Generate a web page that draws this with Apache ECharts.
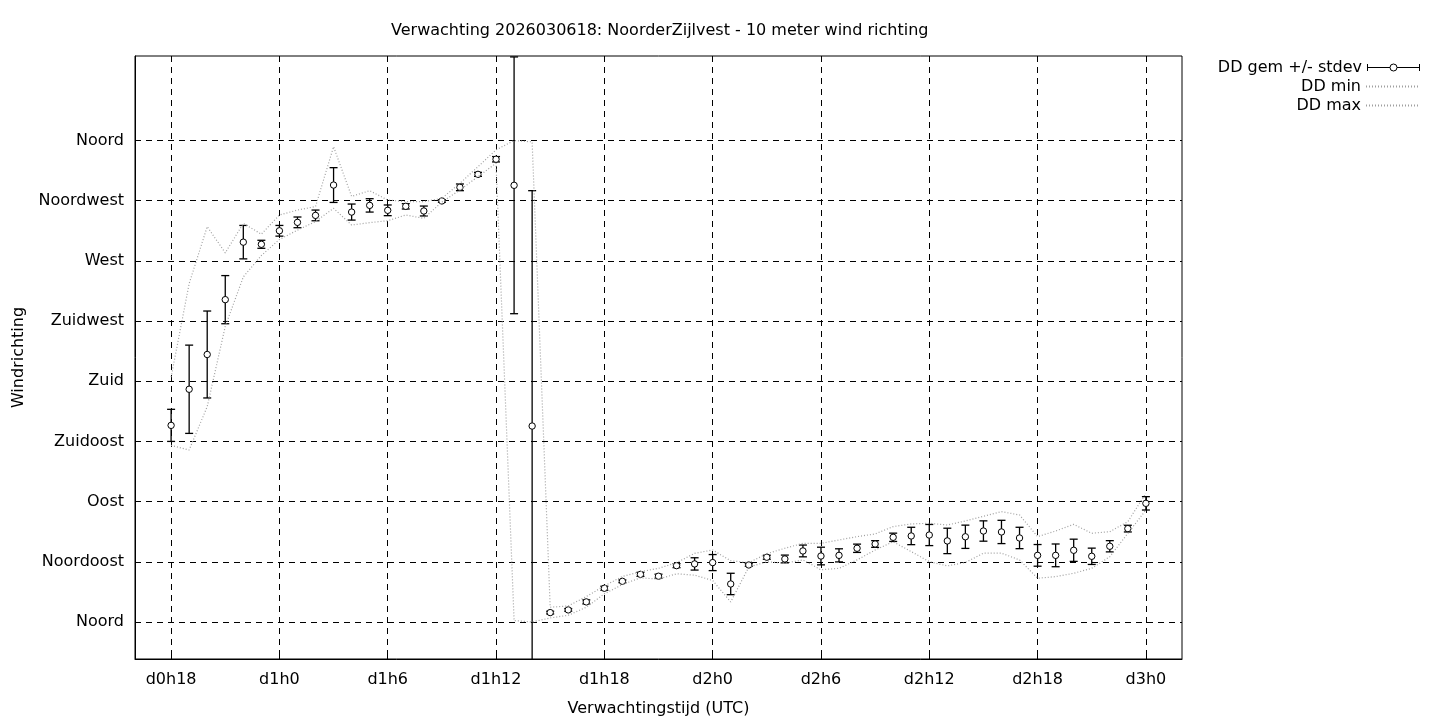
<!DOCTYPE html>
<html>
<head>
<meta charset="utf-8">
<script src="https://cdn.jsdelivr.net/npm/echarts@6/dist/echarts.min.js"></script>
<style>
html,body{margin:0;padding:0;background:#fff;}
#chart{width:1440px;height:720px;}
</style>
</head>
<body>
<div id="chart"></div>
<script>
// forecast hours since d0h0
const hours = [18,19,20,21,22,23,24,25,26,27,28,29,30,31,32,33,34,35,36,37,38,39,40,41,42,43,44,45,46,47,48,49,50,51,52,53,54,55,56,57,58,59,60,61,62,63,64,65,66,67,68,69,70,71,72];
// mean wind direction (degrees)
const ddMean = [147,174,200,241,284,282.4,292.5,298.8,304,326.7,306.5,311.5,307.8,310.8,307.3,314.8,325,334.7,346,326.5,146.5,7,9,15,25.2,30.4,35.6,34.2,42.1,43.4,44.4,28.4,42.6,48.4,47.1,53.1,49.3,49.8,55.1,58.3,63.3,64.3,65,60.6,63.7,68,67.3,62.8,49.8,49.8,53.6,49.1,56.6,69.8,88.7];
// standard deviation (degrees)
const ddStdev = [12,33,32.5,18,12.5,3,4,4,4,13,6,5,4,2,3.7,1,2.5,1.5,2,96,176,1,1,1.5,1.5,1,1.5,1.5,1.5,4.6,6,8,1,1.5,2.9,4.4,6.6,4.9,3.1,2.5,3.1,6.5,7.9,9.5,8.7,7.6,8.7,8,8.1,8.5,8.3,6.1,4.2,2.5,5];
// minimum (degrees)
const ddMin = [132,128.6,161,221,258,274,286,293,299.4,309.3,296.8,298.6,300,304.3,301.8,314,323,333,343,1,0,3,5,11,21,28,33,32,36,35,31,15,41,45,43.9,46.4,39,40.1,46.4,53.8,60,52.6,45.1,41.9,44.5,51.4,51.4,46.4,32.7,33.9,36.4,40.1,48.8,66.3,83.7];
// maximum (degrees)
const ddMax = [183,253,295.6,276,298,290,304.3,308,310.6,355.4,318.2,322.5,315.5,314.3,314.3,316.8,328,340.4,353,360,359,11,12,19,27,34,37.6,40.1,44.3,51.3,53.8,45.8,44.3,51,55.1,58.8,58.8,61.3,63.8,65.8,71.3,73.3,73.8,72.5,75.5,79,82.5,80,63.8,68,73,66.3,67.5,75,96.2];

const xTickValues = [18,24,30,36,42,48,54,60,66,72];
const xTickLabels = ['d0h18','d1h0','d1h6','d1h12','d1h18','d2h0','d2h6','d2h12','d2h18','d3h0'];
const yTickValues = [0,45,90,135,180,225,270,315,360];
const yTickLabels = ['Noord','Noordoost','Oost','Zuidoost','Zuid','Zuidwest','West','Noordwest','Noord'];

const FONT = 'DejaVu Sans';
const FS = 16;
const errData = hours.map((h, i) => [h, ddMean[i], ddStdev[i]]);
const minData = hours.map((h, i) => [h, ddMin[i]]);
const maxData = hours.map((h, i) => [h, ddMax[i]]);

const chart = echarts.init(document.getElementById('chart'), null, {renderer: 'canvas'});
const dotted = {color: '#a0a0a0', width: 1.2, type: [1, 2]};
const gridLine = {show: true, lineStyle: {color: '#000', width: 1, type: [6, 5]}};
const legendText = {fontFamily: FONT, fontSize: FS, color: '#000'};

chart.setOption({
  animation: false,
  backgroundColor: '#fff',
  textStyle: {fontFamily: FONT, color: '#000'},
  title: {
    text: 'Verwachting 2026030618: NoorderZijlvest - 10 meter wind richting',
    left: 391, top: 23, padding: 0,
    textStyle: {fontFamily: FONT, fontSize: FS, fontWeight: 'normal', color: '#000'}
  },
  legend: [
    {
      data: [{name: 'DD gem +/- stdev', icon: 'path://M0.5,0 L0.5,7 M0.5,3.5 L23,3.5 M30,3.5 L52.5,3.5 M52.5,0 L52.5,7 M30,3.5 A3.5,3.5 0 1 1 23,3.5 A3.5,3.5 0 1 1 30,3.5 Z'}],
      right: 20, top: 59.5, align: 'right', padding: 0,
      itemWidth: 53, itemHeight: 7, selectedMode: false,
      itemStyle: {color: '#fff', borderColor: '#000', borderWidth: 1},
      textStyle: legendText
    },
    {
      data: ['DD min'], right: 20, top: 78.5, align: 'right', padding: 0,
      itemWidth: 53, itemHeight: 7, selectedMode: false,
      itemStyle: {opacity: 0},
      textStyle: legendText
    },
    {
      data: ['DD max'], right: 20, top: 97.5, align: 'right', padding: 0,
      itemWidth: 53, itemHeight: 7, selectedMode: false,
      itemStyle: {opacity: 0},
      textStyle: legendText
    }
  ],
  grid: {
    left: 135, right: 258, top: 56, bottom: 61,
    show: true, borderColor: '#000', borderWidth: 1,
    containLabel: false, outerBoundsMode: 'none'
  },
  xAxis: {
    type: 'value', min: 16, max: 74,
    name: 'Verwachtingstijd (UTC)', nameLocation: 'middle', nameGap: 42, nameMoveOverlap: false,
    nameTextStyle: {fontFamily: FONT, fontSize: FS, color: '#000'},
    axisLine: {show: true, onZero: false, lineStyle: {color: '#000', width: 1}},
    axisTick: {show: true, inside: true, length: 6, customValues: xTickValues, lineStyle: {color: '#000'}},
    axisLabel: {
      customValues: xTickValues, margin: 13,
      fontFamily: FONT, fontSize: FS, color: '#000',
      formatter: v => xTickLabels[xTickValues.indexOf(v)]
    },
    splitLine: gridLine
  },
  yAxis: {
    type: 'value', min: -27.7, max: 423.2,
    name: 'Windrichting', nameLocation: 'middle', nameGap: 108, nameRotate: 90, nameMoveOverlap: false,
    nameTextStyle: {fontFamily: FONT, fontSize: FS, color: '#000'},
    axisLine: {show: true, onZero: false, lineStyle: {color: '#000', width: 1}},
    axisTick: {show: true, inside: true, length: 6, customValues: yTickValues, lineStyle: {color: '#000'}},
    axisLabel: {
      customValues: yTickValues, margin: 11,
      fontFamily: FONT, fontSize: FS, color: '#000',
      formatter: v => yTickLabels[yTickValues.indexOf(v)]
    },
    splitLine: gridLine
  },
  series: [
    {
      name: 'DD min', type: 'line', data: minData, symbol: 'none', smooth: false,
      clip: true, lineStyle: dotted, itemStyle: {color: '#a0a0a0'}
    },
    {
      name: 'DD max', type: 'line', data: maxData, symbol: 'none', smooth: false,
      clip: true, lineStyle: dotted, itemStyle: {color: '#a0a0a0'}
    },
    {
      name: 'DD gem +/- stdev', type: 'custom', data: errData, clip: true,
      itemStyle: {color: '#000'},
      encode: {x: 0, y: 1},
      renderItem: function (params, api) {
        const x = api.value(0), m = api.value(1), s = api.value(2);
        const top = api.coord([x, m + s]);
        const bot = api.coord([x, m - s]);
        const c = api.coord([x, m]);
        const hw = 4;
        const st = {stroke: '#000', lineWidth: 1.3, fill: null};
        return {
          type: 'group',
          children: [
            {type: 'line', shape: {x1: c[0], y1: top[1], x2: c[0], y2: bot[1]}, style: st},
            {type: 'line', shape: {x1: c[0] - hw, y1: top[1], x2: c[0] + hw, y2: top[1]}, style: st},
            {type: 'line', shape: {x1: c[0] - hw, y1: bot[1], x2: c[0] + hw, y2: bot[1]}, style: st},
            {type: 'circle', shape: {cx: c[0], cy: c[1], r: 3.2}, style: {fill: '#fff', stroke: '#000', lineWidth: 1}}
          ]
        };
      }
    }
  ]
});
</script>
</body>
</html>
